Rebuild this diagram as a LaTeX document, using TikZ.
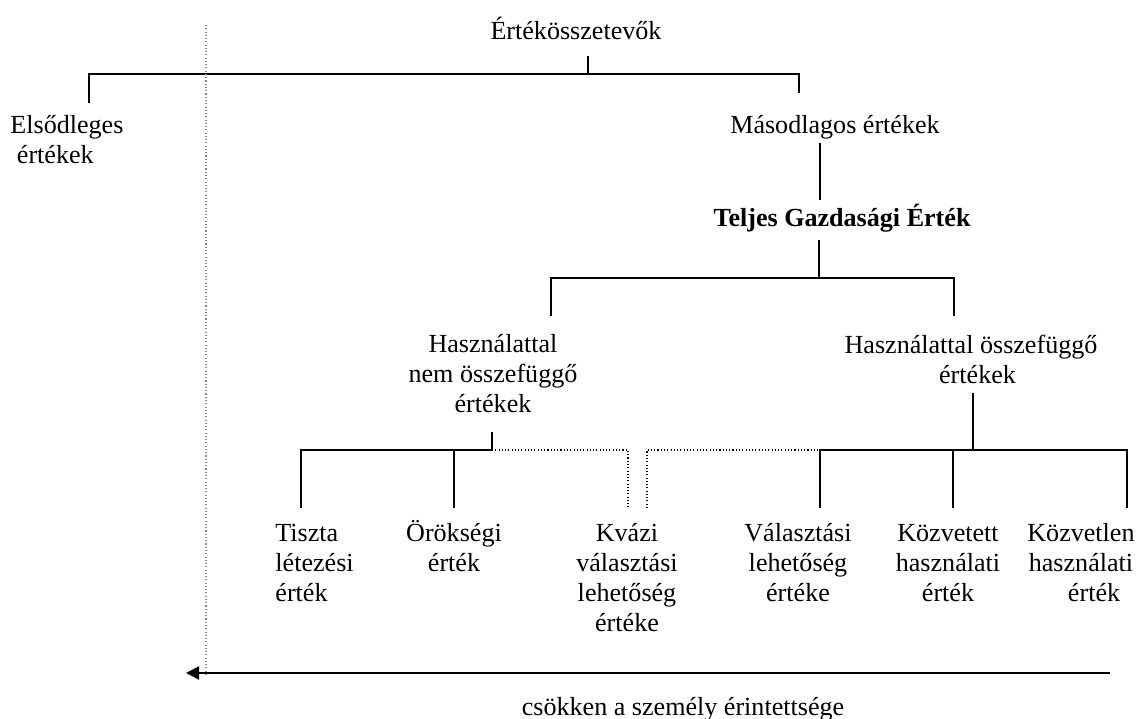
\documentclass[tikz,border=0pt]{standalone}
\usepackage{fontspec}
\setmainfont{Liberation Serif}
\usetikzlibrary{arrows.meta}

\tikzset{
  lbl/.style={inner sep=0pt, anchor=base, align=center, font=\fontsize{12}{13.8}\selectfont},
  brk/.style={line width=1.1pt},
  dotl/.style={line width=0.5pt, densely dotted}
}

\begin{document}
\begin{tikzpicture}[x=0.46pt, y=-0.46pt]
            \useasboundingbox (0,0) rectangle (1141,719);
            % labels (multi-line ones sit on their last baseline)
            \node[lbl]                                 (tot)      at ( 576, 39) {Értékösszetevők};
            \node[lbl, align=left, anchor=base west]   (prim)     at (  10,163) {Elsődleges\\\hspace*{3pt}értékek};
            \node[lbl]                                 (sec)      at ( 835,133) {Másodlagos értékek};
            \node[lbl, font=\fontsize{12}{13.8}\selectfont\bfseries]
                                                       (teg)      at ( 842,226) {Teljes Gazdasági Érték};
            \node[lbl]                                 (nuse)     at ( 493,412) {Használattal\\nem összefüggő\\értékek};
            \node[lbl]                                 (use)      at ( 971,383) {Használattal összefüggő\\\hspace*{6pt}értékek};
            \node[lbl, align=left, anchor=base west]   (pure)     at ( 275,601) {Tiszta\\létezési\\érték};
            \node[lbl]                                 (bequest)  at ( 454,571) {Örökségi\\érték};
            \node[lbl]                                 (quasi)    at ( 627,631) {Kvázi\\választási\\lehetőség\\értéke};
            \node[lbl]                                 (option)   at ( 798,601) {Választási\\lehetőség\\értéke};
            \node[lbl]                                 (indirect) at ( 948,601) {Közvetett\\használati\\érték};
            \node[lbl]                                 (direct)   at (1081,601) {Közvetlen\\használati\\\hspace*{12pt}érték};
            \node[lbl]                                 (decr)     at ( 683,715) {csökken a személy érintettsége};
            % junctions
            \coordinate (tot-j)  at (588, 56);  \coordinate (tot-b)  at (588, 74);
            \coordinate (prim-t) at ( 89,103);  \coordinate (sec-t)  at (799, 93);
            \coordinate (sec-b)  at (820,143);  \coordinate (teg-t)  at (820,200);
            \coordinate (teg-b)  at (819,240);  \coordinate (teg-j)  at (819,278);
            \coordinate (nuse-t) at (551,316);  \coordinate (use-t)  at (954,316);
            \coordinate (nuse-b) at (492,432);  \coordinate (nuse-j) at (492,450);
            \coordinate (use-b)  at (973,393);  \coordinate (use-j)  at (973,450);
            \coordinate (pure-t) at (301,508);  \coordinate (beq-t)  at (454,508);
            \coordinate (qa-t)   at (628,508);  \coordinate (qb-t)   at (647,508);
            \coordinate (opt-t)  at (820,508);  \coordinate (ind-t)  at (953,508);
            \coordinate (dir-t)  at (1127,508);
            \coordinate (arr-s)  at (1110,673); \coordinate (arr-e)  at (186,673);
            \coordinate (lim-t)  at (206, 25);  \coordinate (lim-b)  at (206,676);
            % brackets
            \draw[brk] (tot-j) -- (tot-b);
            \draw[brk] (prim-t) -- (prim-t |- tot-b) -- (sec-t |- tot-b) -- (sec-t);
            \draw[brk] (sec-b) -- (teg-t);
            \draw[brk] (teg-b) -- (teg-j);
            \draw[brk] (nuse-t) -- (nuse-t |- teg-j) -- (use-t |- teg-j) -- (use-t);
            \draw[brk] (nuse-b) -- (nuse-j);
            \draw[brk] (pure-t) -- (pure-t |- nuse-j) -- (nuse-j);
            \draw[brk] (beq-t) -- (beq-t |- nuse-j);
            \draw[dotl] (nuse-j) -- (qa-t |- nuse-j) -- (qa-t);
            \draw[dotl] (qb-t) -- (qb-t |- use-j) -- (opt-t |- use-j);
            \draw[brk] (use-b) -- (use-j);
            \draw[brk] (opt-t) -- (opt-t |- use-j) -- (dir-t |- use-j) -- (dir-t);
            \draw[brk] (ind-t) -- (ind-t |- use-j);
            % limit and direction
            \draw[dotl, gray] (lim-t) -- (lim-b);
            \draw[line width=1pt, -{Triangle[length=6pt, width=6pt]}] (arr-s) -- (arr-e);
\end{tikzpicture}
\end{document}
